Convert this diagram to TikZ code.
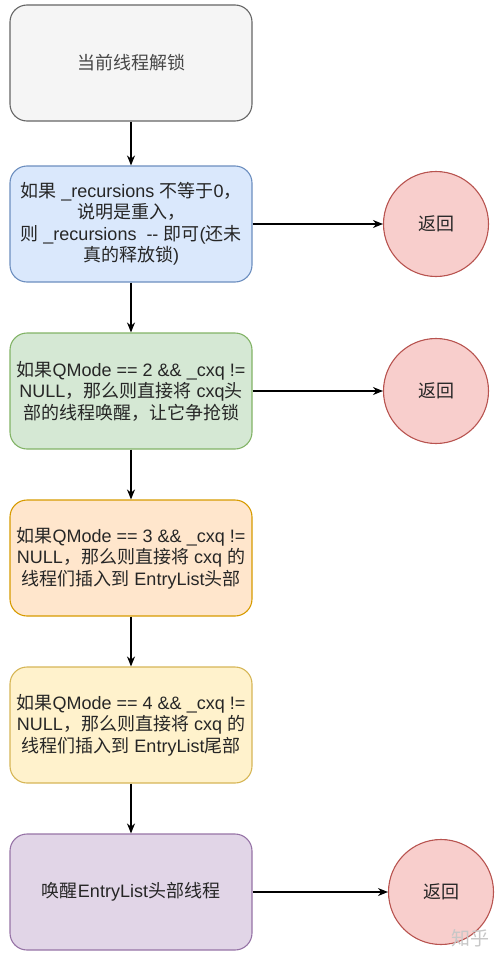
\documentclass[tikz,border=0pt]{standalone}
\usepackage{fontspec}
\setmainfont{Liberation Sans}
\newfontfamily\cjkfont{Noto Sans CJK SC}
\newcommand\zh[1]{{\cjkfont #1}}
\usetikzlibrary{arrows.meta}
\definecolor{grayF}{HTML}{F5F5F5}\definecolor{grayD}{HTML}{666666}
\definecolor{blueF}{HTML}{DAE8FC}\definecolor{blueD}{HTML}{6C8EBF}
\definecolor{greenF}{HTML}{D5E8D4}\definecolor{greenD}{HTML}{82B366}
\definecolor{orangeF}{HTML}{FFE6CC}\definecolor{orangeD}{HTML}{D79B00}
\definecolor{yellowF}{HTML}{FFF2CC}\definecolor{yellowD}{HTML}{D6B656}
\definecolor{purpleF}{HTML}{E1D5E7}\definecolor{purpleD}{HTML}{9673A6}
\definecolor{redF}{HTML}{F8CECC}\definecolor{redD}{HTML}{B85450}
\definecolor{txt}{HTML}{262626}
\tikzset{
  stepbox/.style={draw, rounded corners=17pt, line width=1.1pt, minimum width=242pt, minimum height=116pt,
    inner sep=0pt, align=center, font=\fontsize{18}{21.5}\selectfont, text=txt},
  retnode/.style={circle, draw=redD, fill=redF, line width=1.1pt, minimum size=105pt, inner sep=0pt,
    font=\fontsize{18}{21}\selectfont, text=txt},
  conn/.style={line width=1.2pt, -{Stealth[length=10pt,width=8pt]}}
}
\begin{document}
\begin{tikzpicture}[x=1pt,y=-1pt]
\useasboundingbox (0,0) rectangle (500,958);
\node[stepbox, draw=grayD, fill=grayF, text=grayD!70!black] (s1) at (131,63) {\zh{当前线程解锁}};
\node[stepbox, draw=blueD, fill=blueF] (s2) at (131,224)
  {\zh{如果} \_recursions \zh{不等于}0\zh{，}\\ \zh{说明是重入，}\\ \zh{则} \_recursions\ \ -{}- \zh{即可}(\zh{还未}\\ \zh{真的释放锁})};
\node[stepbox, draw=greenD, fill=greenF] (s3) at (131,391)
  {\zh{如果}QMode == 2 \&\& \_cxq !=\\ NULL\zh{，那么则直接将} cxq\zh{头}\\ \zh{部的线程唤醒，让它争抢锁}};
\node[stepbox, draw=orangeD, fill=orangeF] (s4) at (131,558)
  {\zh{如果}QMode == 3 \&\& \_cxq !=\\ NULL\zh{，那么则直接将} cxq \zh{的}\\ \zh{线程们插入到} EntryList\zh{头部}};
\node[stepbox, draw=yellowD, fill=yellowF] (s5) at (131,725)
  {\zh{如果}QMode == 4 \&\& \_cxq !=\\ NULL\zh{，那么则直接将} cxq \zh{的}\\ \zh{线程们插入到} EntryList\zh{尾部}};
\node[stepbox, draw=purpleD, fill=purpleF] (s6) at (131,892)
  {\zh{唤醒}EntryList\zh{头部线程}};
\node[retnode] (r1) at (436,224) {\zh{返回}};
\node[retnode] (r2) at (436,391) {\zh{返回}};
\node[retnode] (r3) at (441,892) {\zh{返回}};
\draw[conn] (s1) -- (s2);
\draw[conn] (s2) -- (s3);
\draw[conn] (s3) -- (s4);
\draw[conn] (s4) -- (s5);
\draw[conn] (s5) -- (s6);
\draw[conn] (s2) -- (r1);
\draw[conn] (s3) -- (r2);
\draw[conn] (s6) -- (r3);
\node[font=\fontsize{19}{19}\selectfont\cjkfont, text=black!22] (wm) at (470,938) {知乎};
\end{tikzpicture}
\end{document}
